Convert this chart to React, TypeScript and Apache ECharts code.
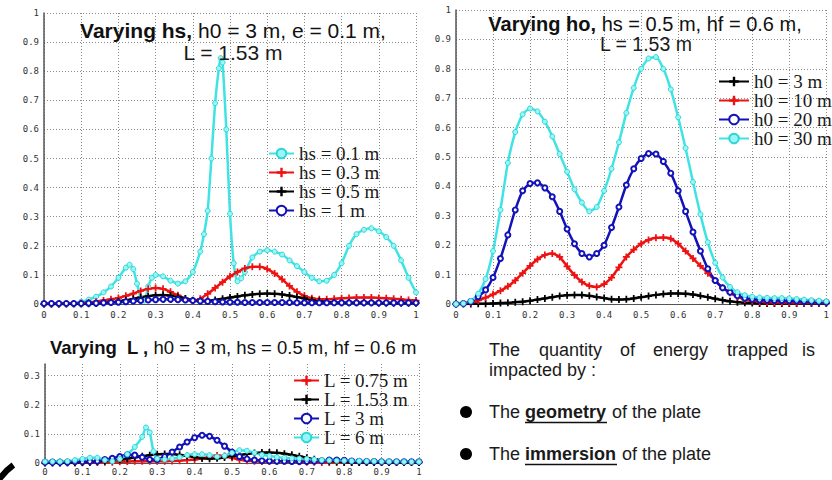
import React, { useEffect, useRef } from 'react';
import * as echarts from 'echarts';

// ---------- data ----------
const xs02 = [0, 0.02, 0.04, 0.06, 0.08, 0.1, 0.12, 0.14, 0.16, 0.18,
  0.2, 0.22, 0.24, 0.26, 0.28, 0.3, 0.32, 0.34, 0.36, 0.38,
  0.4, 0.42, 0.44, 0.46, 0.48, 0.5, 0.52, 0.54, 0.56, 0.58,
  0.6, 0.62, 0.64, 0.66, 0.68, 0.7, 0.72, 0.74, 0.76, 0.78,
  0.8, 0.82, 0.84, 0.86, 0.88, 0.9, 0.92, 0.94, 0.96, 0.98, 1];

const xTicks = ['0', '0.1', '0.2', '0.3', '0.4', '0.5', '0.6', '0.7', '0.8', '0.9', '1'];

// Chart 1: varying hs
const hs01Pts = [[0, 0], [0.02, 0], [0.04, 0], [0.06, 0.001], [0.08, 0.003], [0.1, 0.008], [0.12, 0.015], [0.14, 0.025],
  [0.16, 0.04], [0.18, 0.06], [0.2, 0.09], [0.22, 0.125], [0.23, 0.135], [0.24, 0.12], [0.25, 0.07], [0.26, 0.02],
  [0.27, 0.012], [0.28, 0.06], [0.29, 0.09], [0.3, 0.1], [0.32, 0.095], [0.34, 0.08], [0.36, 0.07], [0.38, 0.078],
  [0.4, 0.11], [0.42, 0.18], [0.43, 0.24], [0.44, 0.32], [0.45, 0.5], [0.46, 0.69], [0.47, 0.81], [0.475, 0.845],
  [0.48, 0.83], [0.49, 0.6], [0.5, 0.31], [0.51, 0.14], [0.52, 0.078], [0.53, 0.088], [0.54, 0.11], [0.56, 0.16],
  [0.58, 0.18], [0.6, 0.185], [0.62, 0.18], [0.64, 0.17], [0.66, 0.15], [0.68, 0.13], [0.7, 0.11], [0.72, 0.09],
  [0.74, 0.078], [0.76, 0.08], [0.78, 0.1], [0.8, 0.14], [0.82, 0.2], [0.84, 0.24], [0.86, 0.255], [0.88, 0.26],
  [0.9, 0.25], [0.92, 0.23], [0.94, 0.2], [0.96, 0.15], [0.98, 0.09], [1, 0.04]];
const hs03 = [0, 0, 0, 0.001, 0.002, 0.003, 0.005, 0.008, 0.012, 0.016,
  0.021, 0.028, 0.036, 0.045, 0.052, 0.055, 0.052, 0.042, 0.03, 0.018,
  0.01, 0.018, 0.035, 0.055, 0.075, 0.095, 0.11, 0.122, 0.128, 0.128,
  0.12, 0.105, 0.085, 0.062, 0.042, 0.028, 0.02, 0.016, 0.016, 0.018,
  0.02, 0.021, 0.022, 0.022, 0.022, 0.021, 0.02, 0.018, 0.016, 0.014, 0.012];
const hs05 = [0, 0, 0, 0, 0, 0, 0.001, 0.002, 0.004, 0.006,
  0.009, 0.013, 0.018, 0.023, 0.027, 0.03, 0.031, 0.029, 0.025, 0.019,
  0.013, 0.01, 0.011, 0.014, 0.018, 0.022, 0.026, 0.03, 0.033, 0.035,
  0.036, 0.035, 0.033, 0.029, 0.024, 0.019, 0.014, 0.01, 0.007, 0.005,
  0.004, 0.004, 0.004, 0.004, 0.004, 0.003, 0.003, 0.003, 0.003, 0.003, 0.003];
const hs1 = [0.002, 0.002, 0.002, 0.002, 0.002, 0.002, 0.003, 0.003, 0.004, 0.005,
  0.006, 0.008, 0.01, 0.012, 0.014, 0.015, 0.016, 0.016, 0.015, 0.014,
  0.012, 0.01, 0.009, 0.008, 0.007, 0.006, 0.006, 0.005, 0.005, 0.005,
  0.005, 0.005, 0.005, 0.005, 0.004, 0.004, 0.004, 0.004, 0.004, 0.004,
  0.004, 0.004, 0.004, 0.004, 0.004, 0.004, 0.004, 0.004, 0.004, 0.004, 0.004];

// Chart 2: varying h0
const h0_3 = [0, 0, 0, 0.001, 0.001, 0.002, 0.003, 0.004, 0.006, 0.008,
  0.011, 0.015, 0.019, 0.023, 0.027, 0.03, 0.031, 0.031, 0.028, 0.024,
  0.02, 0.016, 0.015, 0.016, 0.019, 0.023, 0.027, 0.031, 0.034, 0.036,
  0.036, 0.035, 0.032, 0.028, 0.023, 0.018, 0.013, 0.009, 0.006, 0.004,
  0.003, 0.002, 0.002, 0.002, 0.002, 0.002, 0.002, 0.002, 0.002, 0.002, 0.002];
const h0_10 = [0, 0.001, 0.004, 0.012, 0.022, 0.033, 0.045, 0.06, 0.08, 0.105,
  0.13, 0.152, 0.167, 0.172, 0.16, 0.128, 0.098, 0.075, 0.062, 0.058,
  0.068, 0.09, 0.125, 0.16, 0.185, 0.205, 0.218, 0.225, 0.226, 0.222,
  0.205, 0.18, 0.155, 0.13, 0.105, 0.08, 0.055, 0.038, 0.025, 0.015,
  0.01, 0.007, 0.005, 0.004, 0.004, 0.004, 0.003, 0.003, 0.003, 0.003, 0.003];
const h0_20 = [0, 0.002, 0.008, 0.025, 0.048, 0.09, 0.155, 0.235, 0.32, 0.385,
  0.41, 0.412, 0.395, 0.365, 0.315, 0.255, 0.205, 0.172, 0.16, 0.172,
  0.2, 0.26, 0.33, 0.405, 0.46, 0.495, 0.512, 0.51, 0.485, 0.445,
  0.385, 0.315, 0.245, 0.18, 0.12, 0.08, 0.055, 0.04, 0.028, 0.02,
  0.016, 0.014, 0.013, 0.012, 0.012, 0.011, 0.01, 0.009, 0.008, 0.007, 0.006];
const h0_30 = [0, 0.002, 0.01, 0.035, 0.085, 0.18, 0.32, 0.48, 0.585, 0.645,
  0.665, 0.655, 0.62, 0.57, 0.51, 0.45, 0.39, 0.345, 0.315, 0.33,
  0.385, 0.46, 0.55, 0.65, 0.735, 0.8, 0.835, 0.84, 0.8, 0.73,
  0.635, 0.53, 0.415, 0.305, 0.21, 0.14, 0.09, 0.058, 0.04, 0.03,
  0.025, 0.022, 0.021, 0.02, 0.02, 0.019, 0.017, 0.015, 0.013, 0.011, 0.009];

// Chart 3: varying L
const L075 = [0.001, 0.001, 0.001, 0.001, 0.001, 0.001, 0.002, 0.002, 0.003, 0.003,
  0.004, 0.005, 0.006, 0.006, 0.006, 0.006, 0.006, 0.007, 0.008, 0.01,
  0.012, 0.016, 0.021, 0.026, 0.024, 0.018, 0.012, 0.008, 0.006, 0.005,
  0.005, 0.006, 0.006, 0.005, 0.004, 0.003, 0.003, 0.002, 0.002, 0.002,
  0.002, 0.002, 0.002, 0.002, 0.002, 0.002, 0.002, 0.002, 0.002, 0.002, 0.002];
const L153 = h0_3;
const L3 = [0.003, 0.003, 0.003, 0.003, 0.004, 0.004, 0.005, 0.006, 0.012, 0.016,
  0.022, 0.028, 0.027, 0.02, 0.012, 0.012, 0.022, 0.038, 0.055, 0.072,
  0.087, 0.095, 0.092, 0.078, 0.058, 0.038, 0.022, 0.014, 0.01, 0.008,
  0.007, 0.006, 0.006, 0.005, 0.005, 0.005, 0.006, 0.008, 0.01, 0.01,
  0.009, 0.007, 0.006, 0.005, 0.005, 0.004, 0.004, 0.004, 0.004, 0.004, 0.004];
const L6Pts = [[0, 0.005], [0.02, 0.005], [0.04, 0.005], [0.06, 0.006], [0.08, 0.01], [0.1, 0.014], [0.12, 0.018],
  [0.14, 0.018], [0.16, 0.01], [0.18, 0.006], [0.2, 0.014], [0.22, 0.03], [0.24, 0.055], [0.26, 0.09], [0.27, 0.122],
  [0.28, 0.105], [0.29, 0.04], [0.3, 0.015], [0.32, 0.012], [0.34, 0.015], [0.36, 0.02], [0.38, 0.027], [0.4, 0.03],
  [0.42, 0.03], [0.44, 0.027], [0.46, 0.022], [0.48, 0.025], [0.5, 0.035], [0.52, 0.044], [0.54, 0.042], [0.56, 0.035],
  [0.58, 0.028], [0.6, 0.024], [0.62, 0.02], [0.64, 0.018], [0.66, 0.016], [0.68, 0.015], [0.7, 0.014], [0.72, 0.012],
  [0.74, 0.01], [0.76, 0.009], [0.78, 0.008], [0.8, 0.008], [0.82, 0.007], [0.84, 0.007], [0.86, 0.006], [0.88, 0.006],
  [0.9, 0.005], [0.92, 0.005], [0.94, 0.005], [0.96, 0.004], [0.98, 0.004], [1, 0.004]];

// ---------- styles ----------
const CYAN = '#3fe3e3';
const RED = '#ee1111';
const BLACK = '#000000';
const BLUE = '#1212b8';
const PLUS = 'path://M3,0H5V3H8V5H5V8H3V5H0V3H3Z';
const SANS = '"Liberation Sans", Arial, sans-serif';
const SERIF = '"Liberation Serif", "Times New Roman", serif';
const MONO = '"DejaVu Sans Mono", monospace';

const grid02 = (ys: number[]) => ys.map((y, i) => [xs02[i], y]);

type Kind = 'cyan' | 'red' | 'black' | 'blue';
function mk(name: string, data: number[][], kind: Kind, axis: number) {
  const base: any = {
    type: 'line', name, data, xAxisIndex: axis, yAxisIndex: axis,
    smooth: 0.2, showSymbol: true, animation: false,
    emphasis: { disabled: true },
  };
  if (kind === 'cyan') {
    base.symbol = 'circle'; base.symbolSize = 5;
    base.lineStyle = { color: CYAN, width: 2.5 };
    base.itemStyle = { color: '#9af6f6', borderColor: '#2ed6d6', borderWidth: 1 };
  } else if (kind === 'red') {
    base.symbol = PLUS; base.symbolSize = 7;
    base.lineStyle = { color: RED, width: 2.5 };
    base.itemStyle = { color: RED };
  } else if (kind === 'black') {
    base.symbol = PLUS; base.symbolSize = 7;
    base.lineStyle = { color: BLACK, width: 2.5 };
    base.itemStyle = { color: BLACK };
  } else {
    base.symbol = 'emptyCircle'; base.symbolSize = 5;
    base.lineStyle = { color: BLUE, width: 2.5 };
    base.itemStyle = { color: BLUE, borderWidth: 1.2 };
  }
  return base;
}

const labelStyle = { fontFamily: MONO, fontSize: 9, color: '#333' };
const splitStyle = { type: [1, 2], color: '#8a8a8a', width: 1 };

function xAxis(gridIndex: number, margin: number) {
  return {
    type: 'value', gridIndex, min: 0, max: 1, interval: 0.1,
    axisLine: { show: true, onZero: false, lineStyle: { color: '#555', width: 1 } },
    axisTick: { show: false },
    axisLabel: { ...labelStyle, margin, formatter: (v: number) => xTicks[Math.round(v * 10)] ?? '' },
    splitLine: { show: true, lineStyle: splitStyle },
  };
}
function yAxis(gridIndex: number, max: number, margin: number) {
  return {
    type: 'value', gridIndex, min: 0, max, interval: 0.1,
    axisLine: { show: true, onZero: false, lineStyle: { color: '#555', width: 1.5 } },
    axisTick: { show: false },
    axisLabel: { ...labelStyle, margin, showMaxLabel: max === 1, formatter: (v: number) => xTicks[Math.round(v * 10)] ?? '' },
    splitLine: { show: true, showMaxLine: max === 1, lineStyle: splitStyle },
  };
}

function legend(names: string[], left: number, top: number, itemWidth: number, lh: number) {
  return {
    orient: 'vertical', left, top, padding: 0, itemGap: 0, itemWidth, itemHeight: 12,
    selectedMode: false, data: names,
    textStyle: { fontFamily: SERIF, fontSize: 19, color: '#1a1a1a', lineHeight: lh },
  };
}

const txt = (text: string, x: number, y: number, size: number, weight = 'normal', align = 'left') => ({
  type: 'text', x, y, z: 10,
  style: { text, fontFamily: SANS, fontSize: size, fontWeight: weight, fill: '#1a1a1a', align, verticalAlign: 'middle' },
});
const richTitle = (bold: string, rest: string, x: number, y: number, size: number) => ({
  type: 'text', x, y, z: 10,
  style: {
    text: `{b|${bold}}{r|${rest}}`, align: 'center', verticalAlign: 'middle',
    rich: {
      b: { fontFamily: SANS, fontSize: size, fontWeight: 'bold', fill: '#111' },
      r: { fontFamily: SANS, fontSize: size, fill: '#111' },
    },
  },
});

const option: any = {
  animation: false,
  backgroundColor: '#ffffff',
  grid: [
    { left: 44, top: 13, width: 372, height: 291 },
    { left: 456, top: 10, width: 374, height: 294 },
    { left: 45, top: 364, width: 374, height: 99 },
  ],
  xAxis: [xAxis(0, 6), xAxis(1, 6), xAxis(2, 4)],
  yAxis: [yAxis(0, 1, 5), yAxis(1, 1, 5), yAxis(2, 0.34, 5)],
  legend: [
    legend(['hs = 0.1 m', 'hs = 0.3 m', 'hs = 0.5 m', 'hs = 1 m'], 268, 144, 25, 19),
    legend(['h0 = 3 m', 'h0 = 10 m', 'h0 = 20 m', 'h0 = 30 m'], 718, 72, 30, 19),
    legend(['L = 0.75 m', 'L = 1.53 m', 'L = 3 m', 'L = 6 m'], 293, 371, 25, 18),
  ],
  series: [
    mk('hs = 0.1 m', hs01Pts, 'cyan', 0),
    mk('hs = 0.3 m', grid02(hs03), 'red', 0),
    mk('hs = 0.5 m', grid02(hs05), 'black', 0),
    mk('hs = 1 m', grid02(hs1), 'blue', 0),
    mk('h0 = 3 m', grid02(h0_3), 'black', 1),
    mk('h0 = 10 m', grid02(h0_10), 'red', 1),
    mk('h0 = 20 m', grid02(h0_20), 'blue', 1),
    mk('h0 = 30 m', grid02(h0_30), 'cyan', 1),
    mk('L = 0.75 m', grid02(L075), 'red', 2),
    mk('L = 1.53 m', grid02(L153), 'black', 2),
    mk('L = 3 m', grid02(L3), 'blue', 2),
    mk('L = 6 m', L6Pts, 'cyan', 2),
  ],
  graphic: [
    richTitle('Varying hs,', ' h0 = 3 m, e = 0.1 m,', 233, 30, 21),
    txt('L = 1.53 m', 233, 52, 21, 'normal', 'center'),
    richTitle('Varying ho,', ' hs = 0.5 m, hf = 0.6 m,', 645, 24, 20),
    txt('L = 1.53 m', 646, 44, 19.5, 'normal', 'center'),
    richTitle('Varying  L ,', ' h0 = 3 m, hs = 0.5 m, hf = 0.6 m', 233, 347, 18.5),
    txt('The', 489, 350, 18), txt('quantity', 539, 350, 18), txt('of', 620, 350, 18),
    txt('energy', 653, 350, 18), txt('trapped', 727, 350, 18), txt('is', 802, 350, 18),
    txt('impacted by :', 489, 370, 18),
    { type: 'circle', shape: { cx: 466, cy: 412, r: 6 }, style: { fill: '#000' } },
    { type: 'circle', shape: { cx: 466, cy: 454, r: 6 }, style: { fill: '#000' } },
    txt('The', 489, 412, 18), txt('geometry', 525, 412, 18, 'bold'), txt('of the plate', 612, 412, 18),
    { type: 'line', shape: { x1: 525, y1: 422.5, x2: 607, y2: 422.5 }, style: { stroke: '#111', lineWidth: 1.5 } },
    txt('The', 489, 454, 18), txt('immersion', 525, 454, 18, 'bold'), txt('of the plate', 622, 454, 18),
    { type: 'line', shape: { x1: 525, y1: 464.5, x2: 617, y2: 464.5 }, style: { stroke: '#111', lineWidth: 1.5 } },
    { type: 'arc', shape: { cx: 50, cy: 515, r: 62, startAngle: 3.6, endAngle: 4.08 }, style: { stroke: '#000', lineWidth: 6, fill: 'none' } },
  ],
};

export default function App() {
  const ref = useRef<HTMLDivElement>(null);
  useEffect(() => {
    if (!ref.current) return;
    const chart = echarts.init(ref.current, null, { renderer: 'svg' });
    chart.setOption(option);
    return () => chart.dispose();
  }, []);
  return (
    <div
      ref={ref}
      style={{ position: 'absolute', left: 0, top: 0, width: 832, height: 480, background: '#fff' }}
    />
  );
}
